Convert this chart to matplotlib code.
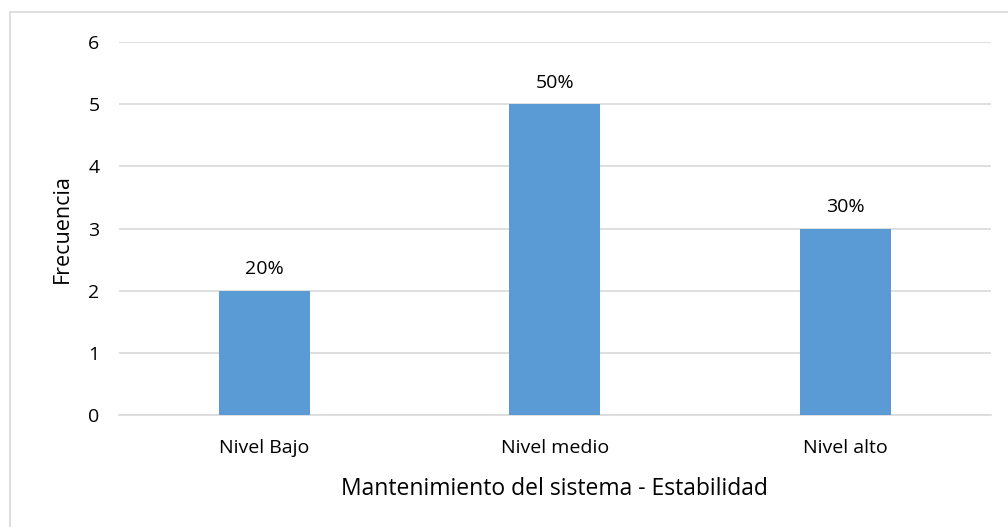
import matplotlib.pyplot as plt
from matplotlib.patches import Rectangle

# Data
categories = ["Nivel Bajo", "Nivel medio", "Nivel alto"]
frequency = [2, 5, 3]
percent_labels = ["20%", "50%", "30%"]

plt.rcParams['font.family'] = ['Open Sans', 'DejaVu Sans']

fig = plt.figure(figsize=(10.08, 5.27), dpi=100)
ax = fig.add_axes([0.118, 0.2125, 0.865, 0.7075])

# chart area border
fig.patches.append(Rectangle((10 / 1008, -0.01), 1.02, (527 - 12) / 527 + 0.01,
                             transform=fig.transFigure, fill=False,
                             edgecolor='#d9d9d9', linewidth=1.2))

x = range(len(categories))
bars = ax.bar(x, frequency, width=0.313, color='#5B9BD5', zorder=3)
for b, lab in zip(bars, percent_labels):
    ax.text(b.get_x() + b.get_width() / 2, b.get_height() + 0.2, lab,
            ha='center', va='bottom', fontsize=14, color='#000000')

ax.set_xlim(-0.5, 2.5)
ax.set_ylim(0, 6)
ax.set_yticks(range(0, 7))
ax.set_xticks(list(x))
ax.set_xticklabels(categories)
ax.yaxis.grid(True, color='#d9d9d9', linewidth=1.2, zorder=0)
for s in ['top', 'right', 'left']:
    ax.spines[s].set_visible(False)
ax.spines['bottom'].set_color('#d9d9d9')
ax.spines['bottom'].set_linewidth(1.2)
ax.tick_params(axis='both', length=0, labelsize=14, colors='#000000')
ax.tick_params(axis='y', pad=14)
ax.tick_params(axis='x', pad=17)

ax.set_ylabel("Frecuencia", fontsize=15.5, labelpad=11)
ax.set_xlabel("Mantenimiento del sistema - Estabilidad", fontsize=16.5, labelpad=15)

fig.savefig("out.png", dpi=100)
